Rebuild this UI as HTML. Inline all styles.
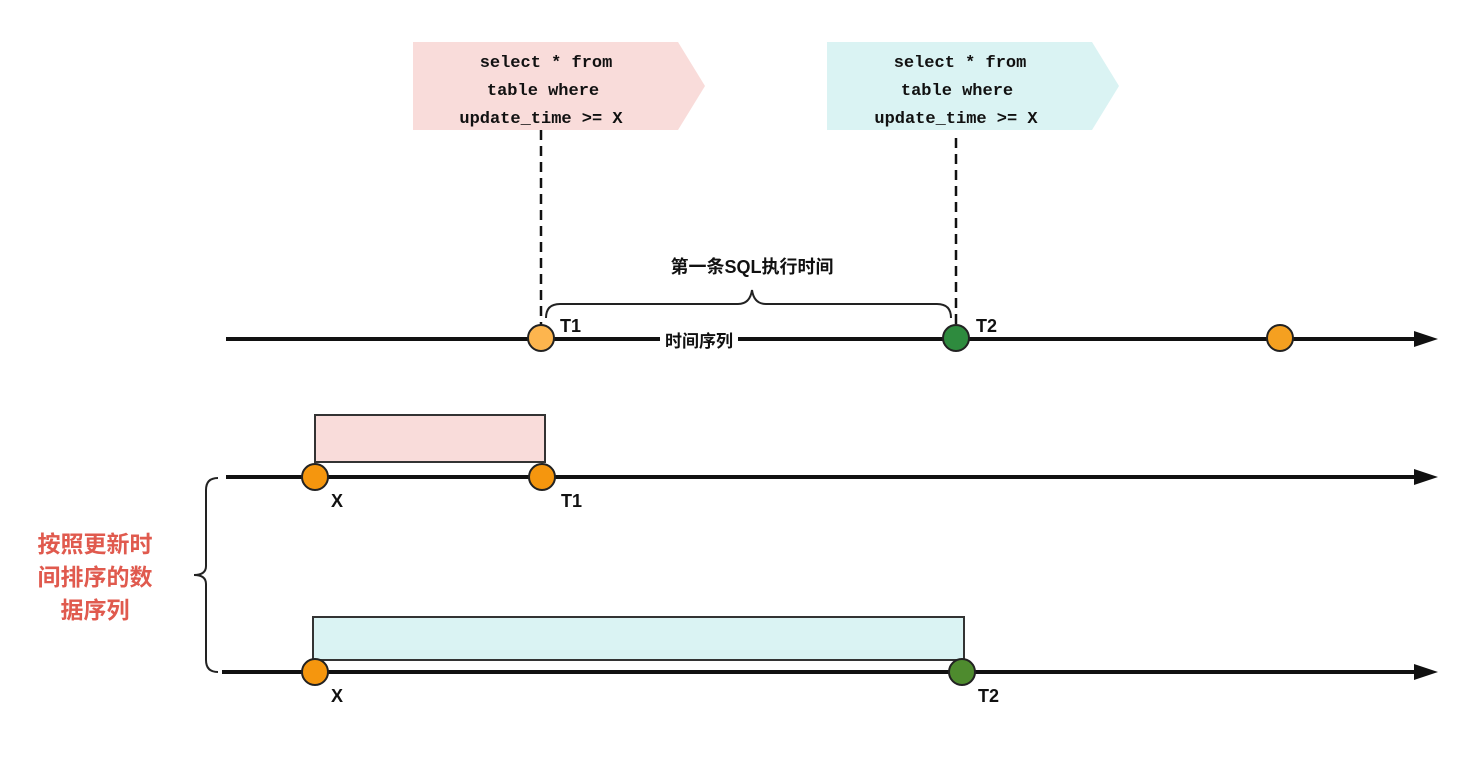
<!DOCTYPE html>
<html><head><meta charset="utf-8"><style>
html,body{margin:0;padding:0;background:#fff;}
svg{display:block;}
.mono{font-family:"Liberation Mono","Noto Sans CJK SC",monospace;font-size:17px;font-weight:bold;fill:#111;}
.lab{font-family:"Liberation Sans","Noto Sans CJK SC",sans-serif;font-weight:bold;font-size:18px;fill:#111;}
.cn{font-family:"Liberation Sans","Noto Sans CJK SC",sans-serif;font-weight:bold;}
</style></head><body>
<svg width="1468" height="762" viewBox="0 0 1468 762" xmlns="http://www.w3.org/2000/svg">
<!-- pentagons -->
<polygon points="413,42 678,42 705,86 678,130 413,130" fill="#F9DCDA"/>
<polygon points="827,42 1092,42 1119,86 1092,130 827,130" fill="#DAF3F3"/>
<text class="mono" text-anchor="middle" x="546" y="67">select * from</text>
<text class="mono" text-anchor="middle" x="543" y="95">table  where</text>
<text class="mono" text-anchor="middle" x="541" y="123">update_time &gt;= X</text>
<text class="mono" text-anchor="middle" x="960" y="67">select * from</text>
<text class="mono" text-anchor="middle" x="957" y="95">table  where</text>
<text class="mono" text-anchor="middle" x="956" y="123">update_time &gt;= X</text>
<!-- dashed -->
<line x1="541" y1="130" x2="541" y2="326" stroke="#111" stroke-width="2.5" stroke-dasharray="10,6"/>
<line x1="956" y1="138" x2="956" y2="326" stroke="#111" stroke-width="2.5" stroke-dasharray="10,6"/>
<!-- brace top -->
<path d="M546,318 Q546,304 560,304 L738,304 Q750,304 752,290 Q754,304 766,304 L937,304 Q951,304 951,318" fill="none" stroke="#222" stroke-width="2"/>
<text class="cn" x="752" y="273" font-size="18" text-anchor="middle" fill="#111">第一条SQL执行时间</text>
<!-- timeline 1 -->
<line x1="226" y1="339" x2="1420" y2="339" stroke="#111" stroke-width="4"/>
<path d="M1414,331 L1438,339 L1414,347 Z" fill="#111"/>
<rect x="660" y="328" width="78" height="22" fill="#fff"/>
<text class="cn" x="699" y="347" font-size="17" text-anchor="middle" fill="#111">时间序列</text>
<circle cx="541" cy="338" r="13" fill="#FDB54E" stroke="#222" stroke-width="2"/>
<circle cx="956" cy="338" r="13" fill="#2E8B3E" stroke="#222" stroke-width="2"/>
<circle cx="1280" cy="338" r="13" fill="#F5A020" stroke="#222" stroke-width="2"/>
<text class="lab" x="560" y="332">T1</text>
<text class="lab" x="976" y="332">T2</text>
<!-- timeline 2 -->
<rect x="315" y="415" width="230" height="47" fill="#F9DCDA" stroke="#333" stroke-width="2"/>
<line x1="226" y1="477" x2="1420" y2="477" stroke="#111" stroke-width="4"/>
<path d="M1414,469 L1438,477 L1414,485 Z" fill="#111"/>
<circle cx="315" cy="477" r="13" fill="#F5960E" stroke="#222" stroke-width="2"/>
<circle cx="542" cy="477" r="13" fill="#F5960E" stroke="#222" stroke-width="2"/>
<text class="lab" x="331" y="507">X</text>
<text class="lab" x="561" y="507">T1</text>
<!-- timeline 3 -->
<rect x="313" y="617" width="651" height="43" fill="#DAF3F3" stroke="#333" stroke-width="2"/>
<line x1="222" y1="672" x2="1420" y2="672" stroke="#111" stroke-width="4"/>
<path d="M1414,664 L1438,672 L1414,680 Z" fill="#111"/>
<circle cx="315" cy="672" r="13" fill="#F5960E" stroke="#222" stroke-width="2"/>
<circle cx="962" cy="672" r="13" fill="#4E8B2E" stroke="#222" stroke-width="2"/>
<text class="lab" x="331" y="702">X</text>
<text class="lab" x="978" y="702">T2</text>
<!-- left brace -->
<path d="M218,478 Q206,478 206,490 L206,566 Q206,575 194,575 Q206,575 206,584 L206,660 Q206,672 218,672" fill="none" stroke="#222" stroke-width="2"/>
<text class="cn" x="95" y="552" font-size="23" text-anchor="middle" fill="#E05A4E">按照更新时</text>
<text class="cn" x="95" y="585" font-size="23" text-anchor="middle" fill="#E05A4E">间排序的数</text>
<text class="cn" x="95" y="618" font-size="23" text-anchor="middle" fill="#E05A4E">据序列</text>
</svg>
</body></html>
